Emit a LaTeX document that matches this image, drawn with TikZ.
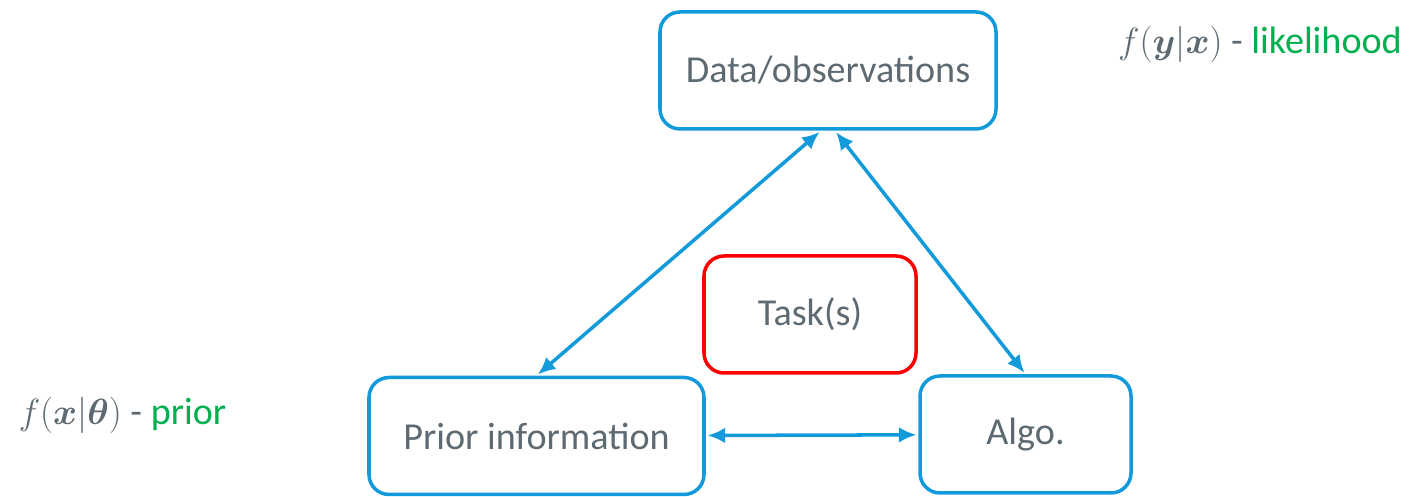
\documentclass[tikz,border=0pt]{standalone}
\usepackage{amsmath}
\usepackage{bm}
\usepackage{fontspec}
\setmainfont{Carlito}
\usepackage{tikz}
\usetikzlibrary{arrows.meta}
\definecolor{boxblue}{RGB}{18,154,219}
\definecolor{txtgray}{RGB}{94,106,114}
\definecolor{lblgreen}{RGB}{0,176,80}

\begin{document}
\begin{tikzpicture}[font=\fontsize{21.7}{26}\selectfont, text=txtgray]
\tikzstyle{box}=[draw=boxblue, line width=2pt, rounded corners=0.4cm, minimum height=2.34cm, inner sep=0pt]
\tikzstyle{link}=[draw=boxblue, line width=2pt, {Latex[length=10pt,width=9pt]}-{Latex[length=10pt,width=9pt]}, shorten <=1pt, shorten >=1pt]

\useasboundingbox (0,0) rectangle (28.22,9.94);

\node[box, minimum width=6.72cm] (data) at (16.56,8.53) {Data/observations};
\node[box, minimum width=6.70cm] (prior) at (10.73,1.22) {Prior information};
\node[box, minimum width=4.22cm] (algo) at (20.51,1.25) {Algo.};
\node[box, draw=red, minimum width=4.24cm] (task) at (16.2,3.65) {Task(s)};

\node (lik) at (25.2,9.06) {$f(\bm{y}|\bm{x})$ - \textcolor{lblgreen}{likelihood}};
\node (pri) at (2.45,1.64) {$f(\bm{x}|\bm{\theta})$ - \textcolor{lblgreen}{prior}};

\draw[link] ([xshift=-4pt]data.south) -- (prior.north);
\draw[link] ([xshift=4pt]data.south) -- (algo.north);
\draw[link] (prior) -- (algo);

\end{tikzpicture}
\end{document}
